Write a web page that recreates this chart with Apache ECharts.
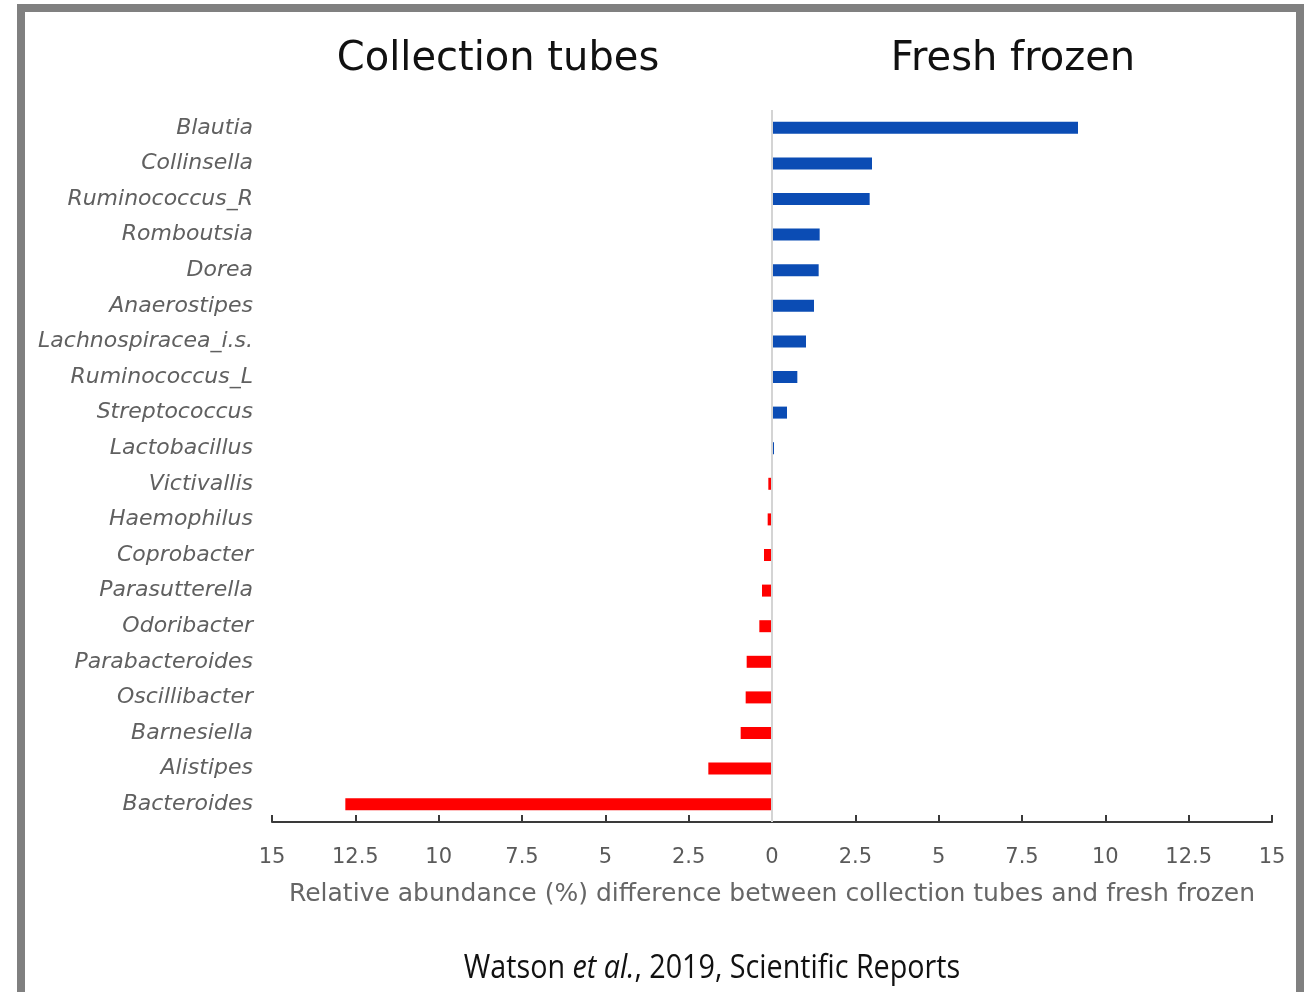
<!DOCTYPE html>
<html>
<head>
<meta charset="utf-8">
<script src="https://cdn.jsdelivr.net/npm/echarts@6/dist/echarts.min.js"></script>
<style>
  html, body { margin: 0; padding: 0; background: #ffffff; }
  #chart { width: 1309px; height: 992px; }
</style>
</head>
<body>
<div id="chart"></div>
<script>
// Genera, top to bottom
const genera = [
  'Blautia', 'Collinsella', 'Ruminococcus_R', 'Romboutsia', 'Dorea',
  'Anaerostipes', 'Lachnospiracea_i.s.', 'Ruminococcus_L', 'Streptococcus', 'Lactobacillus',
  'Victivallis', 'Haemophilus', 'Coprobacter', 'Parasutterella', 'Odoribacter',
  'Parabacteroides', 'Oscillibacter', 'Barnesiella', 'Alistipes', 'Bacteroides'
];

// Relative abundance difference (%): positive = higher in fresh frozen,
// negative = higher in collection tubes
const abundanceDiff = [
  9.18, 3.0, 2.93, 1.43, 1.4,
  1.26, 1.02, 0.76, 0.45, 0.06,
  -0.11, -0.13, -0.24, -0.3, -0.38,
  -0.76, -0.79, -0.94, -1.91, -12.8
];

const xTicks = { min: -15, max: 15, step: 2.5 };
const sideTitles = ['Collection tubes', 'Fresh frozen'];
const axisTitle = 'Relative abundance (%) difference between collection tubes and fresh frozen';

const chart = echarts.init(document.getElementById('chart'), null, { renderer: 'canvas' });

chart.setOption({
  backgroundColor: '#ffffff',
  animation: false,
  grid: { left: 272, right: 37, top: 110, bottom: 170, containLabel: false },
  xAxis: {
    type: 'value',
    min: xTicks.min,
    max: xTicks.max,
    interval: xTicks.step,
    splitLine: { show: false },
    axisLine: { show: true, onZero: false, lineStyle: { color: '#3a3a3a', width: 2 } },
    axisTick: { show: true, inside: true, length: 7, lineStyle: { color: '#3a3a3a', width: 2 } },
    axisLabel: {
      margin: 25,
      color: '#5a5a5a',
      fontFamily: 'DejaVu Sans',
      fontSize: 21,
      formatter: v => String(Math.abs(v))
    },
    name: axisTitle,
    nameLocation: 'middle',
    nameGap: 60,
    nameTextStyle: { color: '#666666', fontFamily: 'DejaVu Sans', fontSize: 25 }
  },
  yAxis: {
    type: 'category',
    data: genera,
    inverse: true,
    axisLine: { show: false },
    axisTick: { show: false },
    splitLine: { show: false },
    axisLabel: {
      margin: 19,
      padding: [4, 0, 0, 0],
      color: '#606060',
      fontFamily: 'DejaVu Sans',
      fontStyle: 'italic',
      fontSize: 22
    }
  },
  series: [{
    type: 'bar',
    data: abundanceDiff,
    barWidth: 12,
    itemStyle: {
      color: p => (p.value >= 0 ? '#0b4cb4' : '#ff0000')
    },
    markLine: {
      silent: true,
      symbol: 'none',
      label: { show: false },
      lineStyle: { color: '#d4d4d4', width: 2, type: 'solid' },
      data: [{ xAxis: 0 }]
    }
  }],
  graphic: [
    {
      type: 'rect',
      shape: { x: 21, y: 8, width: 1279, height: 1010 },
      style: { fill: 'none', stroke: '#808080', lineWidth: 8 },
      z: 10
    },
    {
      type: 'text',
      x: 498, y: 60,
      style: {
        text: sideTitles[0], fill: '#111111',
        font: '40px "DejaVu Sans"', textAlign: 'center', textVerticalAlign: 'middle'
      }
    },
    {
      type: 'text',
      x: 1013, y: 60,
      style: {
        text: sideTitles[1], fill: '#111111',
        font: '40px "DejaVu Sans"', textAlign: 'center', textVerticalAlign: 'middle'
      }
    },
    {
      type: 'text',
      x: 712, y: 969,
      originX: 0, originY: 0,
      scaleX: 0.87,
      style: {
        text: 'Watson {i|et al.}, 2019, Scientific Reports',
        fill: '#111111',
        font: '33px "Open Sans"',
        textAlign: 'center', textVerticalAlign: 'middle',
        rich: { i: { fontStyle: 'italic', fontFamily: 'Open Sans', fontSize: 33, fill: '#111111' } }
      }
    }
  ]
});
</script>
</body>
</html>
